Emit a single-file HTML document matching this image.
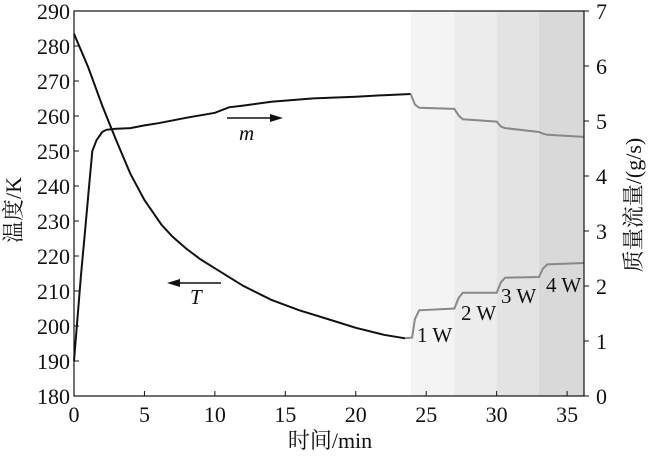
<!DOCTYPE html>
<html><head><meta charset="utf-8"><style>
html,body{margin:0;padding:0;background:#fff;}
svg text{font-family:"Liberation Serif","Noto Serif CJK SC",serif;fill:#111;}
</style></head><body>
<svg id="chart" width="648" height="455" viewBox="0 0 648 455" xmlns="http://www.w3.org/2000/svg"></svg>
<script>
const xTicks=[0,5,10,15,20,25,30,35];
const tTicks=[180,190,200,210,220,230,240,250,260,270,280,290];
const mTicks=[0,1,2,3,4,5,6,7];
const bandStarts=[23.9,27,30,33];
const bandEnds=[27,30,33,36.2];
const bandFills=["#f4f4f4","#ececec","#e3e3e3","#d9d9d9"];
const tTime=[0,1,2,2.5,3,4,5,6.2,7,8,9,10,12,14,16,18,20,22,23.5,24,24.2,24.5,27,27.3,27.6,30,30.3,30.6,33,33.3,33.6,36.2];
const tVal=[283.5,274,263,258,253,243.5,236,229,225.5,222,219,216.5,211.5,207.5,204.5,202,199.5,197.5,196.5,196.7,202,204.5,205,208,209.5,209.5,212.5,213.8,214,216.5,217.6,218];
const mTime=[0,0.5,0.8,1.1,1.3,1.6,2,2.3,3,4,5,6,8,10,11,12,14,17,20,22,23.9,24.2,24.5,27,27.3,27.6,30,30.3,30.6,33,33.3,33.6,36.2];
const mVal=[0.64,2.2,3.05,3.9,4.45,4.65,4.8,4.84,4.86,4.87,4.92,4.96,5.06,5.15,5.25,5.28,5.35,5.41,5.44,5.47,5.49,5.3,5.24,5.22,5.1,5.03,4.99,4.9,4.87,4.8,4.77,4.75,4.71];
const grayStart=23.9;

const L=74,R=584,T=11,B=396;
const x=t=>L+(t/36.2)*(R-L);
const yT=v=>B-(v-180)/110*(B-T);
const yM=v=>B-v/7*(B-T);
const svg=document.getElementById('chart');
const NS="http://www.w3.org/2000/svg";
function mk(tag,attrs){const e=document.createElementNS(NS,tag);for(const k in attrs)e.setAttribute(k,attrs[k]);svg.appendChild(e);return e;}

bandStarts.forEach((s,i)=>{
 const r=mk('rect',{x:x(s),y:T,width:x(bandEnds[i])-x(s),height:B-T,fill:bandFills[i]});
 
 
});

function series(times,vals,yf,name){
 let blk=[],gry=[];
 times.forEach((t,i)=>{const p=x(t).toFixed(1)+','+yf(vals[i]).toFixed(1);
  if(t<=grayStart)blk.push(p); if(t>=grayStart||(i+1<times.length&&times[i+1]>grayStart&&t<=grayStart))gry.push(p);});
 const a=mk('polyline',{points:blk.join(' '),fill:'none',stroke:'#111','stroke-width':2});
 
 
 const b=mk('polyline',{points:gry.join(' '),fill:'none',stroke:'#888','stroke-width':2});
 
 
}
series(tTime,tVal,yT,'temperature');
series(mTime,mVal,yM,'mass-flow');

const frame=mk('rect',{x:L,y:T,width:R-L,height:B-T,fill:'none',stroke:'#111','stroke-width':1.2});



xTicks.forEach(v=>{
 const l=mk('line',{x1:x(v),x2:x(v),y1:B,y2:B-5,stroke:'#111'});
 
 
 const t=mk('text',{x:x(v),y:B+26,'font-size':22,'text-anchor':'middle'});t.textContent=v;
 
 
});
tTicks.forEach(v=>{
 const l=mk('line',{x1:L,x2:L+5,y1:yT(v),y2:yT(v),stroke:'#111'});
 
 
 const t=mk('text',{x:L-4,y:yT(v)+8,'font-size':22,'text-anchor':'end'});t.textContent=v;
 
 
});
mTicks.forEach(v=>{
 const l=mk('line',{x1:R,x2:R+5,y1:yM(v),y2:yM(v),stroke:'#111'});
 
 
 const t=mk('text',{x:R+12,y:yM(v)+8,'font-size':22});t.textContent=v;
 
 
});

function txt(s,ax,ay,name,extra){const t=mk('text',Object.assign({x:ax,y:ay,'font-size':21},extra||{}));t.textContent=s;
 
 return t;}
txt('时间/min',330,448,'x-axis-title',{'text-anchor':'middle','font-size':22});
txt('温度/K',0,0,'left-axis-title',{'text-anchor':'middle','font-size':22,transform:'translate(21,210) rotate(-90)'});
txt('质量流量/(g/s)',0,0,'right-axis-title',{'text-anchor':'middle','font-size':22,transform:'translate(641,205) rotate(-90)'});
txt('m',239,140,'mass-flow-label',{'font-style':'italic'});
txt('T',190,304,'temperature-label',{'font-style':'italic'});
txt('1 W',417,342,'label-1w');
txt('2 W',461,320,'label-2w');
txt('3 W',501,303,'label-3w');
txt('4 W',546,292,'label-4w');

const a1=mk('line',{x1:227,x2:276,y1:118,y2:118,stroke:'#111','stroke-width':1.5});


const h1=mk('polygon',{points:'283,118 270,114 270,122',fill:'#111'});


const a2=mk('line',{x1:174,x2:221,y1:283,y2:283,stroke:'#111','stroke-width':1.5});


const h2=mk('polygon',{points:'167,283 180,279 180,287',fill:'#111'});


</script>
</body></html>
